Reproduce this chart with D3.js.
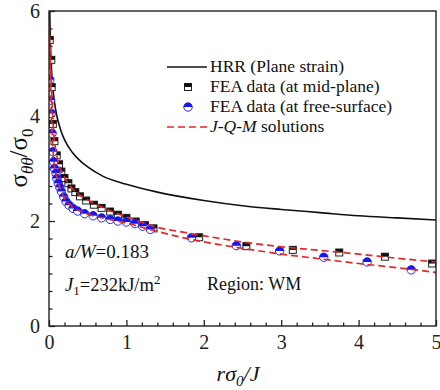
<!DOCTYPE html>
<html><head><meta charset="utf-8">
<script src="https://cdn.jsdelivr.net/npm/d3@7/dist/d3.min.js"></script>
<style>body{margin:0;background:#fff}svg{display:block}</style>
</head><body><svg id="c" width="440" height="390"></svg>
<script>
// HRR (plane strain) curve
const hrrX = [0.01,0.015,0.02,0.03,0.05,0.075,0.1,0.15,0.2,0.3,0.4,0.5,0.7,1.0,1.4,2.0,2.5,3.0,3.5,4.0,4.5,5.0];
const hrrY = [6.0,5.59,5.31,4.95,4.53,4.22,4.01,3.74,3.55,3.31,3.15,3.03,2.85,2.70,2.55,2.39,2.29,2.22,2.16,2.10,2.06,2.02];
// FEA data at mid-plane
const midX = [0.01,0.03,0.035,0.05,0.07,0.10,0.13,0.16,0.20,0.25,0.29,0.34,0.40,0.48,0.58,0.68,0.79,0.89,1.00,1.12,1.24,1.35,1.94,2.55,3.15,3.75,4.34,4.95];
const midY = [5.45,5.07,4.55,3.85,3.52,3.25,3.08,2.94,2.82,2.72,2.62,2.55,2.47,2.39,2.31,2.25,2.18,2.12,2.06,1.99,1.92,1.86,1.69,1.52,1.45,1.40,1.32,1.19];
// FEA data at free-surface
const freeX = [0.01,0.02,0.03,0.04,0.05,0.06,0.07,0.09,0.10,0.12,0.14,0.16,0.19,0.22,0.26,0.31,0.37,0.46,0.57,0.68,0.79,0.89,1.00,1.11,1.21,1.31,1.84,2.42,2.98,3.55,4.11,4.68];
const freeY = [4.69,4.30,4.05,3.67,3.32,3.13,3.00,2.91,2.81,2.72,2.64,2.56,2.46,2.37,2.30,2.24,2.19,2.14,2.10,2.06,2.03,2.00,1.98,1.95,1.90,1.84,1.68,1.53,1.43,1.31,1.22,1.07];
// J-Q-M solutions
const jqmX = [0.003,0.01,0.02,0.03,0.05,0.07,0.1,0.15,0.2,0.3,0.4,0.5,0.75,1.0,1.35,1.8,2.2,2.5,3.0,3.5,4.0,4.5,5.0];
const jqmMidY = [5.75,5.45,5.0,4.6,3.95,3.55,3.25,2.98,2.83,2.62,2.49,2.40,2.22,2.08,1.90,1.77,1.67,1.60,1.51,1.44,1.37,1.29,1.22];
const jqmFreeY = [5.65,5.2,4.6,4.1,3.4,3.05,2.85,2.6,2.44,2.27,2.19,2.13,2.04,1.96,1.82,1.66,1.55,1.48,1.37,1.28,1.19,1.11,1.02];
// axes
const xTicks = [0,1,2,3,4,5];
const yTicks = [0,2,4,6];
const legendLabels = ["HRR (Plane strain)","FEA data (at mid-plane)","FEA data (at free-surface)","solutions"];

const FONT = '"Liberation Serif"';
const svg = d3.select("#c");
const L=49, R=436, T=11, B=326;
const x = d3.scaleLinear().domain([0,5]).range([L,R]);
const y = d3.scaleLinear().domain([0,6]).range([B,T]);

svg.append("defs").append("clipPath").attr("id","clip")
  .append("rect").attr("x",L).attr("y",T).attr("width",R-L).attr("height",B-T);

const xMinor = d3.range(0,5.001,0.2).map(v=>+v.toFixed(2)).filter(v=>!xTicks.includes(v));
const yMinor = d3.range(0,6.001,1/3).map(v=>+v.toFixed(3)).filter(v=>Math.abs(v-Math.round(v/2)*2)>0.01);

svg.append("g").attr("transform",`translate(0,${B})`)
  .call(d3.axisBottom(x).tickValues(xTicks).tickSize(-6).tickPadding(9).tickFormat(d3.format("d")));
svg.append("g").attr("transform",`translate(0,${B})`)
  .call(d3.axisBottom(x).tickValues(xMinor).tickSize(-3.5).tickFormat(""));
svg.append("g").attr("transform",`translate(${L},0)`)
  .call(d3.axisLeft(y).tickValues(yTicks).tickSize(-6).tickPadding(9).tickFormat(d3.format("d")));
svg.append("g").attr("transform",`translate(${L},0)`)
  .call(d3.axisLeft(y).tickValues(yMinor).tickSize(-3.5).tickFormat(""));
svg.selectAll(".domain").remove();
svg.selectAll(".tick line").attr("stroke","#222").attr("stroke-width",1.3);
svg.selectAll(".tick text").style("font-family",FONT).style("font-size","20px").attr("fill","#222");

const plot = svg.append("g").attr("clip-path","url(#clip)");
const line = d3.line().x(d=>x(d[0])).y(d=>y(d[1])).curve(d3.curveMonotoneX);

plot.append("path").datum(hrrX.map((v,i)=>[v,hrrY[i]])).attr("d",line)
  .attr("fill","none").attr("stroke","#111").attr("stroke-width",1.6);

function square(g, cx, cy){
  const s=7;
  g.append("rect").attr("x",cx-s/2).attr("y",cy-s/2).attr("width",s).attr("height",s).attr("fill","#fff").attr("stroke","#222").attr("stroke-width",1);
  g.append("rect").attr("x",cx-s/2).attr("y",cy-s/2).attr("width",s).attr("height",s/2).attr("fill","#111");
}
function circle(g, cx, cy){
  const r=4.2;
  g.append("circle").attr("cx",cx).attr("cy",cy).attr("r",r).attr("fill","#fff").attr("stroke","#2a2ae8").attr("stroke-width",1);
  g.append("path").attr("d",`M${cx-r},${cy} A${r},${r} 0 0 1 ${cx+r},${cy} Z`).attr("fill","#1515f0");
}
const mg = plot.append("g");
midX.forEach((v,i)=>square(mg, x(v), y(midY[i])));
const cg = plot.append("g");
freeX.forEach((v,i)=>circle(cg, x(v), y(freeY[i])));

[jqmMidY, jqmFreeY].forEach(arr=>{
  plot.append("path").datum(jqmX.map((v,i)=>[v,arr[i]])).attr("d",line)
    .attr("fill","none").attr("stroke","#e02a2a").attr("stroke-width",1.7).attr("stroke-dasharray","7,4");
});

svg.append("rect").attr("x",L).attr("y",T).attr("width",R-L).attr("height",B-T)
  .attr("fill","none").attr("stroke","#222").attr("stroke-width",1.4);

function txt(sel, size){ return sel.style("font-family",FONT).style("font-size",size+"px").attr("fill","#111"); }

const lg = svg.append("g");
const ly = [67,87,107,127];
const lx0=167, lx1=207, tx=210;
lg.append("line").attr("x1",lx0).attr("x2",lx1).attr("y1",ly[0]).attr("y2",ly[0]).attr("stroke","#111").attr("stroke-width",1.6);
square(lg,188,ly[1]);
circle(lg,188,ly[2]);
lg.append("line").attr("x1",lx0).attr("x2",lx1).attr("y1",ly[3]).attr("y2",ly[3]).attr("stroke","#e02a2a").attr("stroke-width",1.7).attr("stroke-dasharray","7,4");
legendLabels.forEach((t,i)=>{
  const tt = txt(lg.append("text").attr("x",tx).attr("y",ly[i]+5), 17.5);
  if(i===3){
    tt.append("tspan").style("font-style","italic").text("J-Q-M");
    tt.append("tspan").text(" "+t);
  } else tt.text(t);
});

const a1 = txt(svg.append("text").attr("x",65).attr("y",258), 19);
a1.append("tspan").style("font-style","italic").text("a/W");
a1.append("tspan").text("=0.183");
const a2 = txt(svg.append("text").attr("x",65).attr("y",291), 18.5);
a2.append("tspan").style("font-style","italic").text("J");
a2.append("tspan").attr("dy",4).style("font-size","13px").text("1");
a2.append("tspan").attr("dy",-4).text("=232kJ/m");
a2.append("tspan").attr("dy",-7).style("font-size","13px").text("2");
txt(svg.append("text").attr("x",207).attr("y",290), 18).text("Region: WM");

const xt = txt(svg.append("text").attr("x",238).attr("y",381).attr("text-anchor","middle"), 22).style("font-style","italic");
xt.append("tspan").text("r");
xt.append("tspan").text("σ");
xt.append("tspan").attr("dy",5).style("font-size","15px").text("0");
xt.append("tspan").attr("dy",-5).text("/J");

const yt = txt(svg.append("text").attr("transform","translate(27,158) rotate(-90)").attr("text-anchor","middle"), 25);
yt.append("tspan").text("σ");
yt.append("tspan").attr("dy",6).style("font-size","17px").style("font-style","italic").text("θθ");
yt.append("tspan").attr("dy",-6).text("/σ");
yt.append("tspan").attr("dy",6).style("font-size","17px").text("0");
</script></body></html>
